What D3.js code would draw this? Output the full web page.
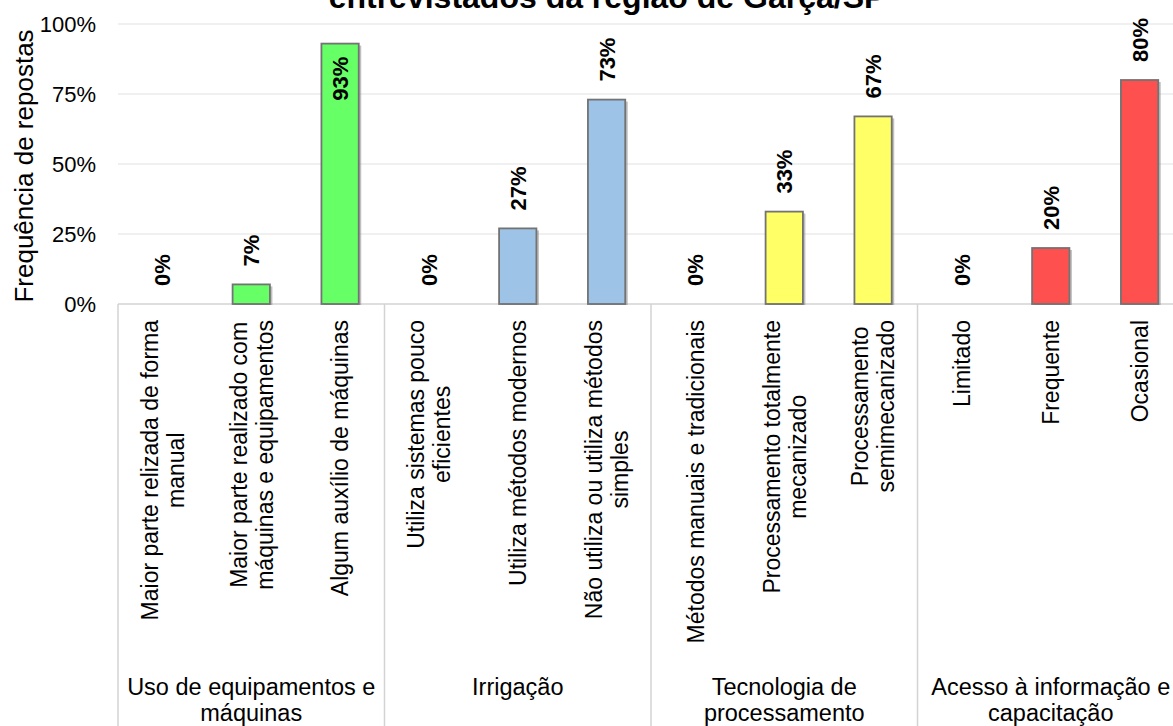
<!DOCTYPE html>
<html>
<head>
<meta charset="utf-8">
<script src="https://cdn.jsdelivr.net/npm/d3@7"></script>
<style>
  html, body { margin: 0; padding: 0; background: #fff; overflow: hidden; }
  svg { display: block; font-family: "Liberation Sans", Arial, sans-serif; }
</style>
</head>
<body>
<svg id="chart" width="1173" height="726"></svg>
<script>
// Grupos de aspectos avaliados (rótulos em linhas)
const groupLabels = [
  ["Uso de equipamentos e", "máquinas"],
  ["Irrigação"],
  ["Tecnologia de", "processamento"],
  ["Acesso à informação e", "capacitação"]
];
const groupColors = ["#66FF66", "#9DC3E6", "#FFFF66", "#FF5050"];

// Categorias de resposta (3 por grupo)
const categoryLabels = [
  ["Maior parte relizada de forma", "manual"],
  ["Maior parte realizado com", "máquinas e equipamentos"],
  ["Algum auxílio de máquinas"],
  ["Utiliza sistemas pouco", "eficientes"],
  ["Utiliza métodos modernos"],
  ["Não utiliza ou utiliza métodos", "simples"],
  ["Métodos manuais e tradicionais"],
  ["Processamento totalmente", "mecanizado"],
  ["Processamento", "semimecanizado"],
  ["Limitado"],
  ["Frequente"],
  ["Ocasional"]
];
const categoryGroup = [0, 0, 0, 1, 1, 1, 2, 2, 2, 3, 3, 3];

// Frequência de respostas (%)
const values = [0, 7, 93, 0, 27, 73, 0, 33, 67, 0, 20, 80];

const yTicks = [0, 25, 50, 75, 100];
const titleText = "entrevistados da região de Garça/SP";
const yTitle = "Frequência de repostas";

const svg = d3.select("#chart");
const plot = { left: 118, right: 1184, top: 24, bottom: 304 };

const ids = d3.range(values.length);
const x = d3.scaleBand().domain(ids).range([plot.left, plot.right]).padding(0);
const xGroup = d3.scaleBand().domain(d3.range(groupLabels.length)).range([plot.left, plot.right]).padding(0);
const y = d3.scaleLinear().domain([0, 100]).range([plot.bottom, plot.top]);

// Linhas de grade horizontais
svg.append("g")
  .selectAll("line")
  .data(yTicks.filter(t => t > 0))
  .join("line")
  .attr("x1", plot.left).attr("x2", plot.right)
  .attr("y1", d => y(d)).attr("y2", d => y(d))
  .attr("stroke", "#ebebeb").attr("stroke-width", 1.5);

// Eixo Y (somente rótulos)
const yAxis = svg.append("g")
  .attr("transform", `translate(${plot.left},0)`)
  .call(d3.axisLeft(y).tickValues(yTicks).tickFormat(d => d + "%").tickSize(0).tickPadding(22));
yAxis.select(".domain").remove();
yAxis.selectAll("text")
  .attr("font-family", "Liberation Sans, Arial, sans-serif")
  .attr("font-size", 22).attr("fill", "#000");

// Título do eixo Y
svg.append("text")
  .attr("transform", `translate(24,${(plot.top + plot.bottom) / 2 + 2}) rotate(-90)`)
  .attr("text-anchor", "middle").attr("dy", "0.35em")
  .attr("font-size", 26).attr("fill", "#000")
  .text(yTitle);

// Tabela de categorias abaixo do eixo
const tableColor = "#d3d3d3";
svg.append("line")
  .attr("x1", plot.left).attr("x2", plot.right)
  .attr("y1", y(0)).attr("y2", y(0))
  .attr("stroke", tableColor).attr("stroke-width", 1.5);
svg.append("g")
  .selectAll("line")
  .data(d3.range(groupLabels.length + 1))
  .join("line")
  .attr("x1", d => d < groupLabels.length ? xGroup(d) : plot.right)
  .attr("x2", d => d < groupLabels.length ? xGroup(d) : plot.right)
  .attr("y1", y(0)).attr("y2", 726)
  .attr("stroke", tableColor).attr("stroke-width", 1.5);

// Barras com sombra leve
const bw = x.bandwidth() * 0.42;
const bars = svg.append("g");
bars.selectAll("rect.shadow")
  .data(ids.filter(i => values[i] > 0))
  .join("rect")
  .attr("class", "shadow")
  .attr("x", i => x(i) + (x.bandwidth() - bw) / 2 + 2.5)
  .attr("y", i => y(values[i]) + 2)
  .attr("width", bw)
  .attr("height", i => y(0) - y(values[i]) - 1)
  .attr("fill", "#8a8a8a").attr("opacity", 0.55);
bars.selectAll("rect.bar")
  .data(ids.filter(i => values[i] > 0))
  .join("rect")
  .attr("class", "bar")
  .attr("x", i => x(i) + (x.bandwidth() - bw) / 2)
  .attr("y", i => y(values[i]))
  .attr("width", bw)
  .attr("height", i => y(0) - y(values[i]))
  .attr("fill", i => groupColors[categoryGroup[i]])
  .attr("stroke", "#737373").attr("stroke-width", 1.8);

// Rótulos de valores (verticais, em negrito)
const vl = svg.append("g")
  .selectAll("text")
  .data(ids)
  .join("text")
  .attr("font-size", 22).attr("font-weight", "bold").attr("fill", "#000")
  .attr("text-anchor", "start").attr("dy", "0.36em")
  .text(i => values[i] + "%");
vl.each(function(i) {
  const len = this.getComputedTextLength();
  const top = y(values[i]);
  let start = top - 18;
  if (start - len < 0) start = top + 13 + len;
  d3.select(this).attr("transform", `translate(${x(i) + x.bandwidth() / 2},${start}) rotate(-90)`);
});

// Rótulos das categorias (verticais, centralizados entre linhas)
const catLineH = 26;
svg.append("g")
  .selectAll("g")
  .data(ids)
  .join("g")
  .each(function(i) {
    const g = d3.select(this);
    const lines = categoryLabels[i];
    const texts = lines.map((ln, k) => g.append("text")
      .attr("font-size", 23).attr("fill", "#000")
      .attr("text-anchor", "middle")
      .attr("y", (k - (lines.length - 1) / 2) * catLineH)
      .attr("dy", "0.36em")
      .text(ln));
    const maxLen = d3.max(texts, t => t.node().getComputedTextLength());
    texts.forEach(t => t.attr("x", -maxLen / 2));
    g.attr("transform", `translate(${x(i) + x.bandwidth() / 2},${y(0) + 16}) rotate(-90)`);
  });

// Rótulos dos grupos
svg.append("g")
  .selectAll("text")
  .data(d3.range(groupLabels.length))
  .join("text")
  .attr("font-size", 23.5).attr("fill", "#000")
  .attr("text-anchor", "middle")
  .each(function(gi) {
    const t = d3.select(this);
    groupLabels[gi].forEach((ln, k) => {
      t.append("tspan")
        .attr("x", xGroup(gi) + xGroup.bandwidth() / 2)
        .attr("y", 695 + k * 25.5)
        .text(ln);
    });
  });

// Título (linha final, rente à borda superior)
svg.append("text")
  .attr("x", 607).attr("y", 8)
  .attr("text-anchor", "middle")
  .attr("font-size", 32).attr("font-weight", "bold").attr("fill", "#000")
  .text(titleText);
</script>
</body>
</html>
